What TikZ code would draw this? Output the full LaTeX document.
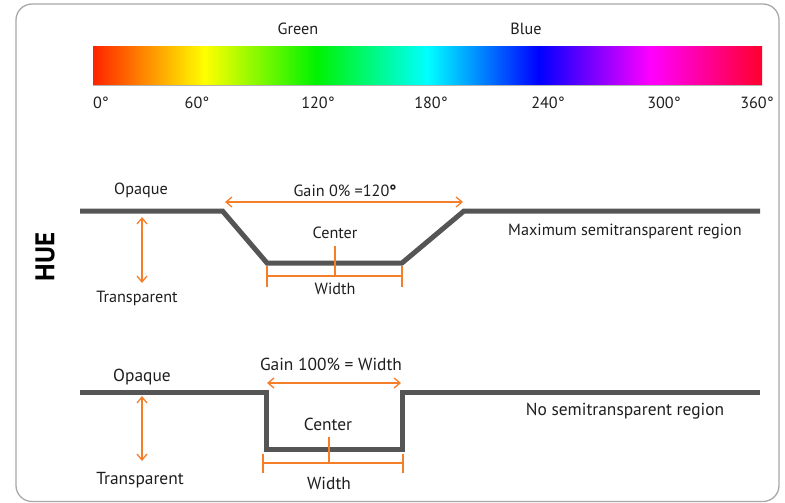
\documentclass[tikz,border=0pt]{standalone}
\usepackage{fontspec}
\setmainfont{PT Sans}
\usetikzlibrary{arrows.meta}
\definecolor{wave}{HTML}{555555}
\definecolor{org}{HTML}{F57F29}
\definecolor{txt}{HTML}{1E1E1E}
\definecolor{framec}{HTML}{A8A8A8}
\definecolor{hredA}{RGB}{255,35,0}
\definecolor{hredB}{RGB}{255,0,45}
\pgfdeclarehorizontalshading{huebar}{100bp}{color(0bp)=(hredA); color(25bp)=(hredA); color(33.33bp)=(yellow); color(41.67bp)=(green!95!black); color(50bp)=(cyan); color(58.33bp)=(blue); color(66.67bp)=(magenta); color(75bp)=(hredB); color(100bp)=(hredB)}
\begin{document}
\begin{tikzpicture}[x=1pt,y=-1pt,
  lbl/.style={font=\fontsize{16.2}{19}\selectfont, text=txt, inner sep=0pt},
  lblb/.style={font=\fontsize{17.4}{20}\selectfont, text=txt, inner sep=0pt},
  wavel/.style={draw=wave, line width=5pt, line join=miter},
  oarrow/.style={draw=org, line width=1.3pt, {Straight Barb[length=6pt,width=10pt]}-{Straight Barb[length=6pt,width=10pt]}},
  oline/.style={draw=org, line width=1.3pt}]
\useasboundingbox (0,0) rectangle (785,503);
\draw[framec, line width=1.3pt, rounded corners=16pt] (16,4) rectangle (779,501.5);

% hue bar
\shade[shading=huebar] (93,47) rectangle (762,86);
\draw[gray!60, line width=1pt] (93,86) -- (762,86);
\node[lbl] (green) at (298,29) {Green};
\node[lbl] (blue) at (526,29) {Blue};
\node[lbl] (d0) at (101,103) {0°};
\node[lbl] (d60) at (197,103) {60°};
\node[lbl] (d120) at (318,103) {120°};
\node[lbl] (d180) at (431,103) {180°};
\node[lbl] (d240) at (548,103) {240°};
\node[lbl] (d300) at (664,103) {300°};
\node[lbl] (d360) at (757,103) {360°};

% HUE
\node[rotate=90, font=\fontsize{27}{30}\bfseries, text=black, inner sep=0pt] (hue) at (45,257) {HUE};

% top diagram
\coordinate (a1) at (80,211);
\coordinate (a2) at (222.5,211);
\coordinate (a3) at (267,263);
\coordinate (a4) at (402,263);
\coordinate (a5) at (464,211);
\coordinate (a6) at (760,211);
\draw[wavel] (a1) -- (a2) -- (a3) -- (a4) -- (a5) -- (a6);
\node[lbl] (op1) at (141,190) {Opaque};
\node[lbl] (tr1) at (137,298) {Transparent};
\coordinate (v1a) at (142,217);
\coordinate (v1b) at (142,283);
\draw[oarrow] (v1a) -- (v1b);
\node[lbl] (gain1) at (345,191) {Gain 0\% =120{\bfseries °}};
\coordinate (g1a) at (225,202);
\coordinate (g1b) at (463,202);
\draw[oarrow] (g1a) -- (g1b);
\node[lbl] (c1) at (335,233) {Center};
\coordinate (c1a) at (335,246);
\coordinate (c1b) at (335,276);
\draw[oline] (c1a) -- (c1b);
\coordinate (w1a) at (267,276);
\coordinate (w1b) at (402,276);
\draw[oline] (w1a) -- (w1b);
\coordinate (w1at) at (267,265.5);
\coordinate (w1ab) at (267,287);
\coordinate (w1bt) at (402,265.5);
\coordinate (w1bb) at (402,287);
\draw[oline] (w1at) -- (w1ab);
\draw[oline] (w1bt) -- (w1bb);
\node[lbl] (wd1) at (335,289) {Width};
\node[lbl] (max) at (625,231) {Maximum semitransparent region};

% bottom diagram
\coordinate (b1) at (80,392);
\coordinate (b2) at (266,392);
\coordinate (b3) at (266,449);
\coordinate (b4) at (402,449);
\coordinate (b5) at (402,392);
\coordinate (b6) at (760,392);
\draw[wavel] (b1) -- (b2) -- (b3) -- (b4) -- (b5) -- (b6);
\node[lblb] (op2) at (142,377) {Opaque};
\node[lblb] (tr2) at (140,480) {Transparent};
\coordinate (v2a) at (142,396);
\coordinate (v2b) at (142,461);
\draw[oarrow] (v2a) -- (v2b);
\node[lblb] (gain2) at (331,364) {Gain 100\% = Width};
\coordinate (g2a) at (267,383);
\coordinate (g2b) at (401,383);
\draw[oarrow] (g2a) -- (g2b);
\node[lblb] (c2) at (328,424) {Center};
\coordinate (c2a) at (329,437);
\coordinate (c2b) at (329,463);
\draw[oline] (c2a) -- (c2b);
\coordinate (w2a) at (263,463);
\coordinate (w2b) at (403,463);
\draw[oline] (w2a) -- (w2b);
\coordinate (w2at) at (263,454);
\coordinate (w2ab) at (263,473);
\coordinate (w2bt) at (403,454);
\coordinate (w2bb) at (403,473);
\draw[oline] (w2at) -- (w2ab);
\draw[oline] (w2bt) -- (w2bb);
\node[lblb] (wd2) at (329,483) {Width};
\node[lblb] (nosemi) at (625,411) {No semitransparent region};
\end{tikzpicture}
\end{document}
